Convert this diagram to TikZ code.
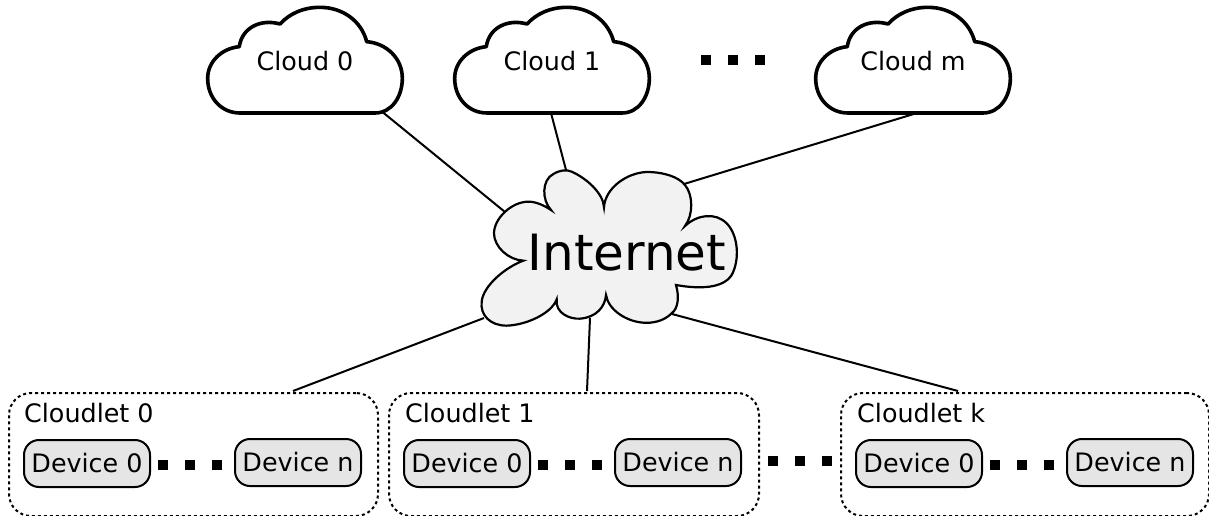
\documentclass[tikz,border=0pt]{standalone}
\usepackage{fontspec}
\setmainfont{DejaVu Sans}
\tikzset{
  cloudshape/.pic={
    \draw[line width=3.6pt,line join=round,fill=white,shift={(190,0)},scale=1/3]
      (150,339) -- (555,339) .. controls (605,339) and (637,290) .. (637,235)
      .. controls (637,175) and (590,130) .. (530,125)
      .. controls (515,65) and (460,22) .. (390,22)
      .. controls (340,22) and (300,40) .. (270,72)
      .. controls (210,55) and (155,85) .. (148,140)
      .. controls (95,145) and (53,185) .. (53,235)
      .. controls (53,295) and (95,339) .. (150,339) -- cycle;
  },
  tinydots/.pic={
    \fill (0,0) rectangle +(9.5,10);
    \fill (27,0) rectangle +(9.5,10);
    \fill (54,0) rectangle +(9.5,10);
  },
  cloudbox/.style={draw,line width=2pt,rounded corners=22pt,dash pattern=on 3pt off 3pt,fill=white},
  devicebox/.style={draw,line width=2pt,rounded corners=15pt,fill=black!10},
  link/.style={line width=2pt},
  lbl/.style={anchor=base,inner sep=0pt,font=\fontsize{25.4}{30}\selectfont},
}
\begin{document}
\begin{tikzpicture}[x=1pt,y=-1pt]
\useasboundingbox (0,0) rectangle (1209,516);
% connector ends
\coordinate (c0e) at (380,110);
\coordinate (c1e) at (551,113);
\coordinate (cme) at (917,113);
\coordinate (i0) at (505,212);
\coordinate (i1) at (566,170);
\coordinate (im) at (684,184);
\coordinate (j0) at (484,318);
\coordinate (j1) at (590,318);
\coordinate (jk) at (672,314);
\coordinate (b0) at (293,391);
\coordinate (b1) at (587,391);
\coordinate (bk) at (958,391);
\draw[link] (c0e) -- (i0);
\draw[link] (c1e) -- (i1);
\draw[link] (cme) -- (im);
\draw[link] (j0) -- (b0);
\draw[link] (j1) -- (b1);
\draw[link] (jk) -- (bk);
% clouds
\pic at (0,0) {cloudshape};
\pic at (247,0) {cloudshape};
\pic at (608,0) {cloudshape};
\node[lbl] (cloud0) at (305,70.5) {Cloud 0};
\node[lbl] (cloud1) at (552,70.5) {Cloud 1};
\node[lbl] (cloudm) at (913,70.5) {Cloud m};
\pic at (701,55) {tinydots};
% internet
\draw[line width=2.2pt,line join=miter,fill=black!5,shift={(470,160)},scale=1/3]
  (402,142) .. controls (405,85) and (470,38) .. (530,36)
  .. controls (580,36) and (625,50) .. (645,75)
  .. controls (670,105) and (670,165) .. (645,198)
  .. controls (680,165) and (735,155) .. (770,190)
  .. controls (805,225) and (810,300) .. (785,345)
  .. controls (760,385) and (690,388) .. (618,375)
  .. controls (628,410) and (625,445) .. (605,460)
  .. controls (580,485) and (545,490) .. (520,488)
  .. controls (470,485) and (415,450) .. (408,405)
  .. controls (405,440) and (380,472) .. (330,476)
  .. controls (300,478) and (255,460) .. (260,418)
  .. controls (245,460) and (170,495) .. (110,497)
  .. controls (60,497) and (30,465) .. (35,425)
  .. controls (40,375) and (110,320) .. (160,302)
  .. controls (115,300) and (72,260) .. (72,220)
  .. controls (72,175) and (125,125) .. (175,125)
  .. controls (200,125) and (225,138) .. (243,150)
  .. controls (215,120) and (215,60) .. (250,42)
  .. controls (270,30) and (290,28) .. (305,35)
  .. controls (350,55) and (400,100) .. (402,142) -- cycle;
\node[anchor=base,inner sep=0pt,font=\fontsize{50}{60}\selectfont] (internet) at (627,270) {Internet};
% cloudlets
\node[cloudbox,minimum width=369pt,minimum height=123pt,inner sep=0pt,anchor=north west] (clet0) at (8,392) {};
\node[cloudbox,minimum width=370pt,minimum height=123pt,inner sep=0pt,anchor=north west] (clet1) at (388,392) {};
\node[cloudbox,minimum width=368pt,minimum height=123pt,inner sep=0pt,anchor=north west] (cletk) at (840,392) {};
\node[lbl,anchor=base west] (l0) at (24,422) {Cloudlet 0};
\node[lbl,anchor=base west] (l1) at (405,422) {Cloudlet 1};
\node[lbl,anchor=base west] (lk) at (857,422) {Cloudlet k};
% devices
\foreach \nm/\xa/\ya/\txt in {d00/23/439/Device 0,d0n/234/438/Device n,d10/403/439/Device 0,d1n/614/438/Device n,dk0/855/439/Device 0,dkn/1066/438/Device n}{
  \node[devicebox,minimum width=126pt,minimum height=47pt,inner sep=0pt,anchor=north west] (\nm) at (\xa,\ya) {};
  \node[lbl] at ([yshift=-8.5pt]\nm.center) {\txt};
}
\pic at (158,460) {tinydots};
\pic at (538,460) {tinydots};
\pic at (768,456) {tinydots};
\pic at (990,460) {tinydots};
\end{tikzpicture}
\end{document}
